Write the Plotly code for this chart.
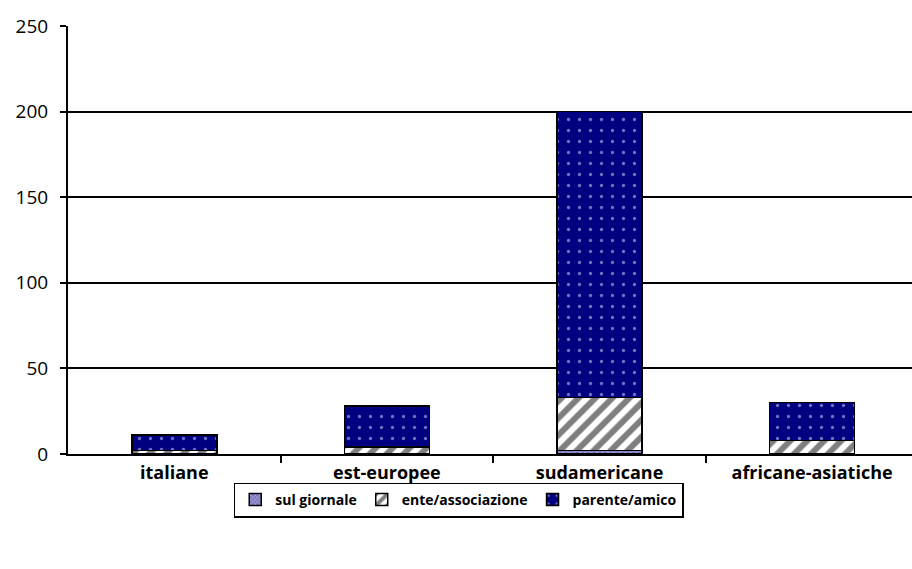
import plotly.graph_objects as go

categories = ["italiane", "est-europee", "sudamericane", "africane-asiatiche"]
sul_giornale = [0, 0, 2, 0]
ente_associazione = [2, 4, 31, 8]
parente_amico = [9, 24, 167, 22]
y_ticks = [0, 50, 100, 150, 200, 250]

x = list(range(len(categories)))
fig = go.Figure()
fig.add_trace(go.Bar(
    x=x, y=sul_giornale, name="sul giornale", width=0.4,
    marker=dict(color="#9a9ad0", line=dict(color="black", width=1.5),
                pattern=dict(shape="x", fgcolor="#ffffff", bgcolor="#7a7ac0", size=4, solidity=0.3)),
))
fig.add_trace(go.Bar(
    x=x, y=ente_associazione, name="ente/associazione", width=0.4,
    marker=dict(color="white", line=dict(color="black", width=1.5),
                pattern=dict(shape="/", fgcolor="black", bgcolor="white", size=12, solidity=0.5)),
))
fig.add_trace(go.Bar(
    x=x, y=parente_amico, name="parente/amico", width=0.4,
    marker=dict(color="#000080", line=dict(color="black", width=1.5),
                pattern=dict(shape=".", fgcolor="#e0e4ff", bgcolor="#000080", size=11, solidity=0.07)),
))

fig.update_layout(
    barmode="stack",
    width=912, height=569,
    margin=dict(l=68, r=0, t=26, b=115, autoexpand=False),
    plot_bgcolor="white", paper_bgcolor="white",
    font=dict(family="Open Sans, Liberation Sans, sans-serif", color="black", size=16),
    showlegend=True,
    legend=dict(
        orientation="h", xref="container", yref="container",
        x=0.503, xanchor="center", y=0.152, yanchor="top",
        bordercolor="black", borderwidth=1.5, traceorder="normal",
        font=dict(size=14, family="Open Sans, Liberation Sans, sans-serif", weight="bold"),
        itemwidth=30, tracegroupgap=0,
    ),
    bargap=0.6,
)
fig.update_xaxes(
    tickmode="array", tickvals=x, ticktext=[f"<b>{c}</b>" for c in categories],
    range=[-0.5, 3.47], showgrid=False, zeroline=False, automargin=False,
    showline=True, linecolor="black", linewidth=2,
    ticks="", tickfont=dict(size=18),
    minor=dict(tickmode="array", tickvals=[0.5, 1.5, 2.5], ticks="outside",
               ticklen=7, tickcolor="black", tickwidth=1.5, showgrid=False),
    ticklabelstandoff=1,
)
fig.update_yaxes(
    range=[0, 250], tickvals=y_ticks, showgrid=True, gridcolor="black", gridwidth=1.5,
    showline=True, linecolor="black", linewidth=2, zeroline=False, automargin=False,
    ticks="outside", ticklen=6, tickcolor="black", tickwidth=1.5,
    tickfont=dict(size=19), ticklabelstandoff=8,
)
fig.write_html("out.html")
